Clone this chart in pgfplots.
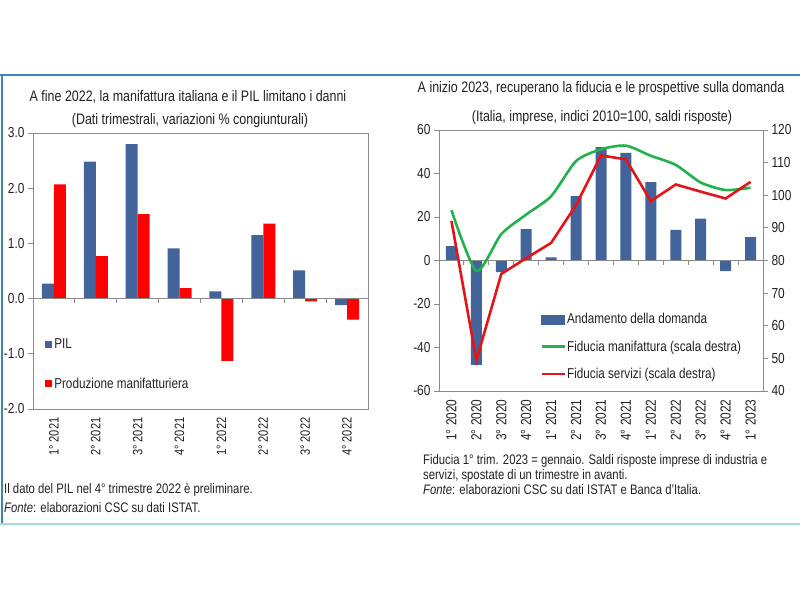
\documentclass[border=0pt]{standalone}
\usepackage{fontspec}
\setmainfont{Liberation Sans}[FakeStretch=0.82]
\usepackage{pgfplots}
\pgfplotsset{compat=1.18}
\definecolor{pilblue}{HTML}{43649A}
\definecolor{prodred}{HTML}{FF0000}
\definecolor{fgreen}{HTML}{22B14C}
\definecolor{fred}{HTML}{E3151A}
\definecolor{frameblue}{HTML}{3A87B8}
\definecolor{framecyan}{HTML}{A8DADC}
\definecolor{txt}{HTML}{222222}
\definecolor{axgray}{HTML}{8A8A8A}
\pgfplotsset{
  common/.style={
    scale only axis,
    axis line style={axgray, line width=0.9pt},
    tick style={axgray, line width=0.9pt},
    tick align=outside,
    major tick length=5pt,
    /pgf/number format/assume math mode=true,
    tick label style={text=txt},
    yticklabel style={font=\fontsize{14.5}{16}\selectfont},
    x tick label style={rotate=90, anchor=east},
    major x tick style={draw=none},
  }
}
\begin{document}
\begin{tikzpicture}
\path[use as bounding box] (0pt,0pt) rectangle (800pt,600pt);
\fill[white] (0pt,0pt) rectangle (800pt,600pt);
\draw[frameblue, line width=2pt] (0pt,525pt) -- (800pt,525pt);
\draw[frameblue, line width=2pt] (1.5pt,525pt) -- (1.5pt,76pt);
\draw[framecyan, line width=2pt] (0pt,76pt) -- (800pt,76pt);

% titles
\node[anchor=base, text=txt, font=\fontsize{15.2}{17}\selectfont] at (188pt,498pt) {A fine 2022, la manifattura italiana e il PIL limitano i danni};
\node[anchor=base, text=txt, font=\fontsize{15.2}{17}\selectfont] at (190pt,475pt) {(Dati trimestrali, variazioni \% congiunturali)};
\node[anchor=base, text=txt, font=\fontsize{15.2}{17}\selectfont] at (601pt,507pt) {A inizio 2023, recuperano la fiducia e le prospettive sulla domanda};
\node[anchor=base, text=txt, font=\fontsize{15.2}{17}\selectfont] at (602pt,478pt) {(Italia, imprese, indici 2010=100, saldi risposte)};

% notes
\node[anchor=base west, inner sep=0pt, text=txt, font=\fontsize{13.8}{15}\selectfont] at (4pt,107pt) {Il dato del PIL nel 4° trimestre 2022 è preliminare.};
\node[anchor=base west, inner sep=0pt, text=txt, font=\fontsize{13.8}{15}\selectfont] at (4pt,88pt) {\textit{Fonte}: elaborazioni CSC su dati ISTAT.};
\node[anchor=base west, inner sep=0pt, text=txt, font=\fontsize{13.8}{15}\selectfont] at (423pt,136pt) {Fiducia 1° trim. 2023 = gennaio. Saldi risposte imprese di industria e};
\node[anchor=base west, inner sep=0pt, text=txt, font=\fontsize{13.8}{15}\selectfont] at (423pt,121pt) {servizi, spostate di un trimestre in avanti.};
\node[anchor=base west, inner sep=0pt, text=txt, font=\fontsize{13.8}{15}\selectfont] at (423pt,106pt) {\textit{Fonte}: elaborazioni CSC su dati ISTAT e Banca d'Italia.};

% left chart
\begin{axis}[common,
  at={(33pt,191pt)}, anchor=south west, width=335pt, height=276pt,
  xmin=0.5, xmax=8.5, ymin=-2, ymax=3,
  ybar=0pt, bar width=12pt,
  ytick={-2,-1,0,1,2,3}, ytick pos=left,
  yticklabel style={/pgf/number format/fixed, /pgf/number format/fixed zerofill, /pgf/number format/precision=1},
  xtick={1,...,8},
  xticklabel style={font=\fontsize{13.5}{15}\selectfont},
  xticklabels={1° 2021,2° 2021,3° 2021,4° 2021,1° 2022,2° 2022,3° 2022,4° 2022},
  legend style={at={(0.036,0.264)}, anchor=north west, draw=none, fill=none, inner sep=0pt,
    row sep=24pt, font=\fontsize{14.3}{16}\selectfont, text=txt, cells={anchor=west},
    nodes={inner sep=2pt}},
  ]
\addplot[fill=pilblue, draw=none, legend image code/.code={\fill[pilblue] (0pt,-3.5pt) rectangle (7pt,3.5pt);}] coordinates {(1,0.27) (2,2.48) (3,2.80) (4,0.91) (5,0.13) (6,1.15) (7,0.51) (8,-0.12)};
\addlegendentry{PIL}
\addplot[fill=prodred, draw=none, legend image code/.code={\fill[prodred] (0pt,-3.5pt) rectangle (7pt,3.5pt);}] coordinates {(1,2.07) (2,0.77) (3,1.53) (4,0.19) (5,-1.13) (6,1.36) (7,-0.05) (8,-0.38)};
\addlegendentry{Produzione manifatturiera}
\draw[axgray, line width=0.9pt] (axis cs:0.5,0) -- (axis cs:8.5,0);
\pgfplotsinvokeforeach{1.5,2.5,3.5,4.5,5.5,6.5,7.5}{\draw[axgray, line width=0.9pt] (axis cs:#1,0) -- ([yshift=-4.5pt]axis cs:#1,0);}
\end{axis}

% right chart, left scale
\begin{axis}[common,
  at={(439pt,209pt)}, anchor=south west, width=324pt, height=261pt,
  xmin=0.5, xmax=13.5, ymin=-60, ymax=60,
  ybar, bar width=11pt,
  ytick={-60,-40,...,60}, ytick pos=left,
  xtick={1,...,13},
  xticklabel style={font=\fontsize{14.5}{16}\selectfont},
  xticklabels={1° 2020,2° 2020,3° 2020,4° 2020,1° 2021,2° 2021,3° 2021,4° 2021,1° 2022,2° 2022,3° 2022,4° 2022,1° 2023},
  ]
\addplot[fill=pilblue, draw=none] coordinates {(1,6.6) (2,-48) (3,-5.4) (4,14.4) (5,1.4) (6,29.6) (7,52.1) (8,49.5) (9,36.0) (10,14.1) (11,19.2) (12,-4.9) (13,10.7)};
\draw[axgray, line width=0.9pt] (axis cs:0.5,0) -- (axis cs:13.5,0);
\pgfplotsinvokeforeach{1.5,2.5,3.5,4.5,5.5,6.5,7.5,8.5,9.5,10.5,11.5,12.5}{\draw[axgray, line width=0.9pt] (axis cs:#1,0) -- ([yshift=-4.5pt]axis cs:#1,0);}
\end{axis}

% right chart, right scale
\begin{axis}[common,
  at={(439pt,209pt)}, anchor=south west, width=324pt, height=261pt,
  xmin=0.5, xmax=13.5, ymin=40, ymax=120,
  ytick={40,50,...,120},
  axis y line*=right, axis x line=none,
  legend image code/.code={\draw[#1] (0pt,0pt) -- (23pt,0pt);},
  legend style={at={(0.312,0.302)}, anchor=north west, draw=none, fill=none, inner sep=0pt,
    row sep=13pt, font=\fontsize{14.3}{16}\selectfont, text=txt, cells={anchor=west},
    nodes={inner sep=1.2pt}},
  ]
\addlegendimage{legend image code/.code={\fill[pilblue] (0pt,-4.5pt) rectangle (23pt,4.5pt);}}
\addlegendentry{Andamento della domanda}
\addplot[fgreen, line width=2.6pt, smooth, tension=0.4] coordinates {(1,95.4) (2,76.8) (3,88.1) (4,94.1) (5,99.7) (6,110.5) (7,114.1) (8,115.2) (9,112.1) (10,109.3) (11,103.9) (12,101.6) (13,102.3)};
\addlegendentry{Fiducia manifattura (scala destra)}
\addplot[fred, line width=2.6pt] coordinates {(1,92.1) (2,49.4) (3,75.9) (4,80.7) (5,85.4) (6,97.0) (7,112.2) (8,111.0) (9,98.2) (10,103.3) (11,101.1) (12,99.0) (13,104.1)};
\addlegendentry{Fiducia servizi (scala destra)}
\end{axis}
\end{tikzpicture}
\end{document}
